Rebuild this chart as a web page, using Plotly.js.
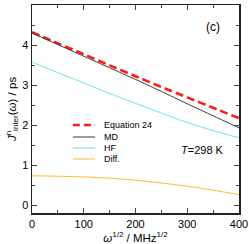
<!DOCTYPE html>
<html><head><meta charset="utf-8">
<script src="https://cdn.plot.ly/plotly-3.0.1.min.js"></script>
<style>html,body{margin:0;padding:0;background:#fff}</style>
</head><body>
<div id="chart" style="width:249px;height:244px"></div>
<script>
const omega = [0, 50, 100, 150, 200, 250, 300, 350, 400];
const eq24  = [4.32, 4.04, 3.77, 3.49, 3.22, 2.95, 2.69, 2.43, 2.17];
const md    = [4.30, 4.01, 3.72, 3.43, 3.14, 2.84, 2.53, 2.23, 1.93];
const hf    = [3.57, 3.31, 3.05, 2.79, 2.54, 2.30, 2.06, 1.86, 1.68];
const diff  = [0.73, 0.72, 0.70, 0.67, 0.62, 0.55, 0.47, 0.37, 0.26];
const seriesNames = ['Equation 24', 'MD', 'HF', 'Diff.'];
const xTicks = [0, 100, 200, 300, 400];
const yTicks = [0, 1, 2, 3, 4, 5];

const FONT = 'Liberation Sans, Arial, Helvetica, sans-serif';
const styles = [
  {color: '#ff1a1a', width: 2.6, dash: '8px,4px'},
  {color: '#3a3a3a', width: 1, dash: 'solid'},
  {color: '#66e6e6', width: 1, dash: 'solid'},
  {color: '#ffb830', width: 1, dash: 'solid'}
];
const ys = [eq24, md, hf, diff];
const traces = ys.map((y, i) => ({
  x: omega, y: y, type: 'scatter', mode: 'lines', name: seriesNames[i],
  line: Object.assign({shape: 'spline', smoothing: 0.6}, styles[i]), showlegend: false
}));

// manual legend (compact, like the reference)
const legX0 = 79, legX1 = 122, legTx = 135;
const legY = [2.0, 1.7, 1.425, 1.15];
const shapes = [], annotations = [];
seriesNames.forEach((n, i) => {
  shapes.push({type: 'line', xref: 'x', yref: 'y', x0: legX0, x1: legX1, y0: legY[i], y1: legY[i],
    line: {color: styles[i].color, width: styles[i].width, dash: i === 0 ? '7px,4px' : 'solid'}});
  annotations.push({xref: 'x', yref: 'y', x: legTx, y: legY[i], text: n, showarrow: false,
    xanchor: 'left', yanchor: 'middle', font: {family: FONT, size: 9, color: '#000'}});
});
annotations.push({xref: 'paper', yref: 'paper', x: 0.875, y: 0.893, text: '(c)', showarrow: false,
  xanchor: 'center', yanchor: 'middle', font: {family: FONT, size: 12, color: '#000'}});
annotations.push({xref: 'x', yref: 'y', x: 330, y: 1.37, text: '<i>T</i>=298 K', showarrow: false,
  xanchor: 'center', yanchor: 'middle', font: {family: FONT, size: 11, color: '#000'}});

const axisCommon = {
  showgrid: false, zeroline: false, showline: true, linecolor: '#222', linewidth: 1.5,
  mirror: 'ticks', ticks: 'inside', ticklen: 5, tickwidth: 1, tickcolor: '#444',
  tickfont: {family: FONT, size: 11, color: '#000'}
};
const layout = {
  width: 249, height: 244,
  margin: {l: 32, r: 10, t: 5, b: 31},
  paper_bgcolor: '#fff', plot_bgcolor: '#fff',
  font: {family: FONT, color: '#000'},
  xaxis: Object.assign({}, axisCommon, {
    range: [0, 400], tickvals: xTicks, ticktext: xTicks.map(String),
    minor: {dtick: 50, ticks: 'inside', ticklen: 3, tickcolor: '#444', showgrid: false},
    title: {text: '<i>ω</i><sup>1/2</sup> / MHz<sup>1/2</sup>', font: {family: FONT, size: 11.5}, standoff: 1}
  }),
  yaxis: Object.assign({}, axisCommon, {
    range: [-0.2, 5], tickvals: yTicks, ticktext: yTicks.map(String),
    minor: {dtick: 0.5, ticks: 'inside', ticklen: 3, tickcolor: '#444', showgrid: false},
    title: {text: '<i>J</i><sup>n</sup><sub>inter</sub>(<i>ω</i>) / ps', font: {family: FONT, size: 11.5}, standoff: 3}
  }),
  shapes: shapes, annotations: annotations, showlegend: false
};
Plotly.newPlot('chart', traces, layout, {staticPlot: true, displayModeBar: false});
</script>
</body></html>
